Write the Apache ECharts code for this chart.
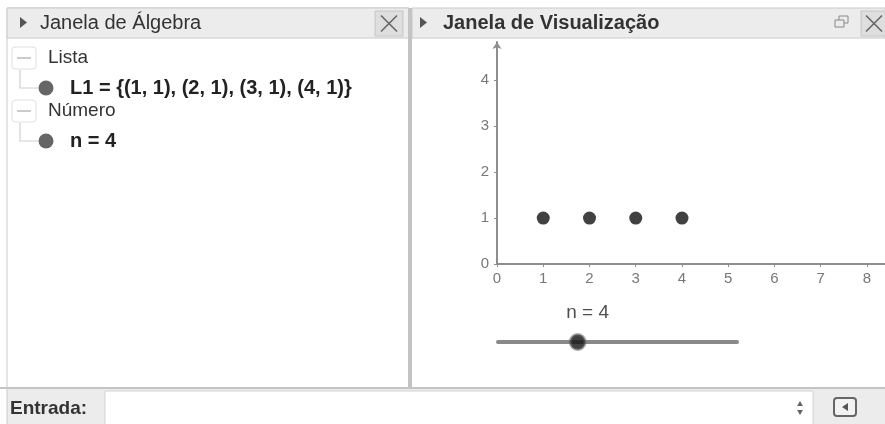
<!DOCTYPE html>
<html>
<head>
<meta charset="utf-8">
<script src="https://cdn.jsdelivr.net/npm/echarts@6/dist/echarts.min.js"></script>
<style>
  html, body { margin: 0; padding: 0; background: #fff; }
  #chart { width: 885px; height: 424px; }
</style>
</head>
<body>
<div id="chart"></div>
<script>
// data
const listName = "L1";
const points = [[1, 1], [2, 1], [3, 1], [4, 1]];
const xTicks = [0, 1, 2, 3, 4, 5, 6, 7, 8];
const yTicks = [0, 1, 2, 3, 4];
const sliderName = "n";
const sliderValue = 4;
const sliderRange = [1, 10];

const FONT = "'Liberation Sans', Arial, sans-serif";
const listText = listName + " = {" + points.map(p => "(" + p[0] + ", " + p[1] + ")").join(", ") + "}";
const sliderText = sliderName + " = " + sliderValue;

function closeBtn(x, y, w, h) {
  const cx = x + w / 2, cy = y + h / 2, s = 8;
  return [
    { type: "rect", shape: { x: x, y: y, width: w, height: h }, style: { fill: "#dedede", stroke: "#c6c6c6" } },
    { type: "line", shape: { x1: cx - s, y1: cy - s, x2: cx + s, y2: cy + s }, style: { stroke: "#666", lineWidth: 1.6 } },
    { type: "line", shape: { x1: cx + s, y1: cy - s, x2: cx - s, y2: cy + s }, style: { stroke: "#666", lineWidth: 1.6 } }
  ];
}

function treeItem(y, group, label) {
  return [
    { type: "rect", shape: { x: 12, y: y, width: 24, height: 22, r: 3 }, style: { fill: "#fff", stroke: "#e0e0e0" } },
    { type: "line", shape: { x1: 17, y1: y + 11, x2: 31, y2: y + 11 }, style: { stroke: "#bbb", lineWidth: 1.5 } },
    { type: "text", x: 48, y: y + 11, style: { text: group, font: "19px " + FONT, fill: "#333", verticalAlign: "middle" } },
    { type: "polyline", shape: { points: [[20, y + 23], [20, y + 41], [38, y + 41]] }, style: { stroke: "#cfcfcf", lineWidth: 1.2, fill: null } },
    { type: "circle", shape: { cx: 46, cy: y + 41, r: 7.5 }, style: { fill: "#666" } },
    { type: "text", x: 70, y: y + 41, style: { text: label, font: "bold 20px " + FONT, fill: "#222", verticalAlign: "middle" } }
  ];
}

const graphics = [].concat(
  [
    // left panel
    { type: "rect", shape: { x: 7, y: 8, width: 402, height: 380 }, style: { fill: "#fff", stroke: "#cacaca" } },
    { type: "rect", shape: { x: 7, y: 8, width: 402, height: 30 }, style: { fill: "#ececec", stroke: "#cacaca" } },
    { type: "polygon", shape: { points: [[20, 17], [20, 28], [27, 22.5]] }, style: { fill: "#555" } },
    { type: "text", x: 40, y: 23, style: { text: "Janela de Álgebra", font: "20px " + FONT, fill: "#333", verticalAlign: "middle" } },
    // right panel header
    { type: "rect", shape: { x: 412, y: 8, width: 473, height: 30 }, style: { fill: "#ececec", stroke: "#cacaca" } },
    { type: "polygon", shape: { points: [[420, 17], [420, 28], [427, 22.5]] }, style: { fill: "#555" } },
    { type: "text", x: 443, y: 23, style: { text: "Janela de Visualização", font: "bold 20px " + FONT, fill: "#333", verticalAlign: "middle" } },
    { type: "rect", shape: { x: 835, y: 20, width: 9, height: 7 }, style: { fill: null, stroke: "#888", lineWidth: 1 } },
    { type: "polyline", shape: { points: [[839, 20], [839, 16], [848, 16], [848, 23], [844, 23]] }, style: { fill: null, stroke: "#888", lineWidth: 1 } },
    // divider
    { type: "rect", shape: { x: 408, y: 8, width: 4, height: 381 }, style: { fill: "#c4c4c4" } },
    // bottom input bar
    { type: "rect", shape: { x: 7, y: 388, width: 878, height: 36 }, style: { fill: "#ececec" } },
    { type: "line", shape: { x1: 0, y1: 388, x2: 885, y2: 388 }, style: { stroke: "#c4c4c4", lineWidth: 2 } },
    { type: "line", shape: { x1: 7, y1: 388, x2: 7, y2: 424 }, style: { stroke: "#cacaca", lineWidth: 1 } },
    { type: "text", x: 10, y: 409, style: { text: "Entrada:", font: "bold 19px " + FONT, fill: "#333", verticalAlign: "middle" } },
    { type: "rect", shape: { x: 105, y: 391, width: 708, height: 34 }, style: { fill: "#fff", stroke: "#d2d2d2" } },
    { type: "polygon", shape: { points: [[797, 406], [803, 406], [800, 401]] }, style: { fill: "#666" } },
    { type: "polygon", shape: { points: [[797, 410], [803, 410], [800, 415]] }, style: { fill: "#666" } },
    { type: "rect", shape: { x: 834, y: 398, width: 22, height: 18, r: 3 }, style: { fill: "#f2f2f2", stroke: "#666", lineWidth: 2 } },
    { type: "polygon", shape: { points: [[848, 403], [848, 411], [842, 407]] }, style: { fill: "#555" } }
  ],
  closeBtn(375, 11, 28, 25),
  closeBtn(861, 11, 26, 25),
  treeItem(47, "Lista", listText),
  treeItem(100, "Número", sliderText)
);

const axisGray = "#8e8e8e";
const labelGray = "#777";

const option = {
  backgroundColor: "#fff",
  animation: false,
  graphic: graphics,
  grid: [
    { left: 497, top: 42, right: 0, bottom: 160, containLabel: false },
    { left: 498, width: 239, top: 332, height: 20 }
  ],
  xAxis: [
    {
      type: "value", gridIndex: 0, min: 0, max: 8.39,
      axisLine: { show: true, lineStyle: { color: axisGray, width: 2 } },
      axisTick: { show: true, length: 3, customValues: xTicks, lineStyle: { color: axisGray } },
      axisLabel: { customValues: xTicks, color: labelGray, fontSize: 15, fontFamily: FONT, margin: 7 },
      splitLine: { show: false }
    },
    { type: "value", gridIndex: 1, min: sliderRange[0], max: sliderRange[1], show: false }
  ],
  yAxis: [
    {
      type: "value", gridIndex: 0, min: 0, max: 4.83,
      axisLine: { show: true, symbol: ["none", "arrow"], symbolSize: [7, 7], lineStyle: { color: axisGray, width: 2 } },
      axisTick: { show: true, length: 3, customValues: yTicks, lineStyle: { color: axisGray } },
      axisLabel: { customValues: yTicks, color: labelGray, fontSize: 15, fontFamily: FONT, margin: 8 },
      splitLine: { show: false }
    },
    { type: "value", gridIndex: 1, min: -1, max: 1, show: false }
  ],
  series: [
    {
      type: "scatter", xAxisIndex: 0, yAxisIndex: 0,
      data: points, symbolSize: 13,
      itemStyle: { color: "#111" }
    },
    {
      type: "line", xAxisIndex: 1, yAxisIndex: 1,
      data: [[sliderRange[0], 0], [sliderRange[1], 0]],
      symbol: "none",
      lineStyle: { color: "#8a8a8a", width: 4, cap: "round" }
    },
    {
      type: "scatter", xAxisIndex: 1, yAxisIndex: 1,
      data: [[sliderValue, 0]], symbolSize: 15,
      itemStyle: { color: "#111", borderColor: "rgba(90,90,90,0.65)", borderWidth: 3 },
      label: {
        show: true, position: "top", distance: 11, offset: [10, 0],
        formatter: sliderText, fontSize: 19, fontFamily: FONT, color: "#222"
      },
      z: 5
    }
  ]
};

const chart = echarts.init(document.getElementById("chart"));
chart.setOption(option);
</script>
</body>
</html>
